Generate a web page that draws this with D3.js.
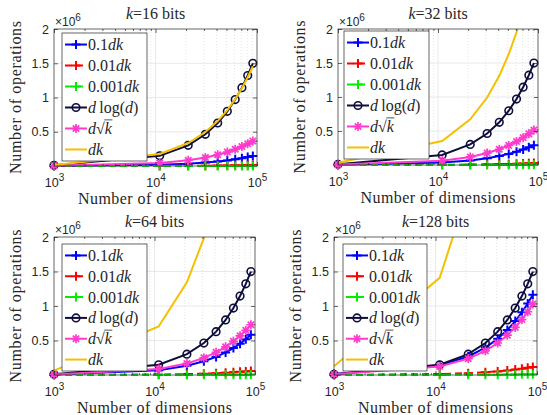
<!DOCTYPE html>
<html>
<head>
<meta charset="utf-8">
<script src="https://cdn.jsdelivr.net/npm/d3@7"></script>
<style>
body { margin: 0; background: #fff; }
.chart { width: 547px; height: 415px; }
text { fill: #262626; }
.serif { font-family: 'Liberation Serif', 'DejaVu Serif', 'Times New Roman', serif; }
.sans { font-family: 'Liberation Sans', Arial, Helvetica, sans-serif; }
</style>
</head>
<body>
<div class="chart"></div>
<script>
// dimensions d on the x axis
const dims = [1000, 11000, 21000, 31000, 41000, 51000, 61000, 71000, 81000, 91000];

const xTicks = [1e3, 1e4, 1e5];
const xTickExps = ['3', '4', '5'];
const yTicks = [0.5e6, 1e6, 1.5e6, 2e6];
const yTickLabels = ['0.5', '1', '1.5', '2'];
const kBits = [16, 32, 64, 128];

// d log(d), same in every panel
const dLogD = [10000, 148000, 302000, 463000, 628000, 798000, 970000, 1144000, 1321000, 1499000];

// k = 16
const tenth16 = [1600, 17600, 33600, 49600, 65600, 81600, 97600, 113600, 129600, 145600];
const hundredth16 = [160, 1760, 3360, 4960, 6560, 8160, 9760, 11360, 12960, 14560];
const thousandth16 = [16, 176, 336, 496, 656, 816, 976, 1136, 1296, 1456];
const sqrt16 = [4000, 44000, 84000, 124000, 164000, 204000, 244000, 284000, 324000, 364000];
const full16 = [16000, 176000, 336000, 496000, 656000, 816000, 976000, 1136000, 1296000, 1456000];

// k = 32
const tenth32 = [3200, 35200, 67200, 99200, 131200, 163200, 195200, 227200, 259200, 291200];
const hundredth32 = [320, 3520, 6720, 9920, 13120, 16320, 19520, 22720, 25920, 29120];
const thousandth32 = [32, 352, 672, 992, 1312, 1632, 1952, 2272, 2592, 2912];
const sqrt32 = [5660, 62200, 118800, 175400, 231900, 288500, 345100, 401600, 458200, 514800];
const full32 = [32000, 352000, 672000, 992000, 1312000, 1632000, 1952000, 2272000, 2592000, 2912000];

// k = 64
const tenth64 = [6400, 70400, 134400, 198400, 262400, 326400, 390400, 454400, 518400, 582400];
const hundredth64 = [640, 7040, 13440, 19840, 26240, 32640, 39040, 45440, 51840, 58240];
const thousandth64 = [64, 704, 1344, 1984, 2624, 3264, 3904, 4544, 5184, 5824];
const sqrt64 = [8000, 88000, 168000, 248000, 328000, 408000, 488000, 568000, 648000, 728000];
const full64 = [64000, 704000, 1344000, 1984000, 2624000, 3264000, 3904000, 4544000, 5184000, 5824000];

// k = 128
const tenth128 = [12800, 140800, 268800, 396800, 524800, 652800, 780800, 908800, 1036800, 1164800];
const hundredth128 = [1280, 14080, 26880, 39680, 52480, 65280, 78080, 90880, 103680, 116480];
const thousandth128 = [128, 1408, 2688, 3968, 5248, 6528, 7808, 9088, 10368, 11648];
const sqrt128 = [11300, 124500, 237600, 350700, 463900, 577000, 690100, 803300, 916400, 1029500];
const full128 = [128000, 1408000, 2688000, 3968000, 5248000, 6528000, 7808000, 9088000, 10368000, 11648000];

const panelSeries = [
	[tenth16, hundredth16, thousandth16, dLogD, sqrt16, full16],
	[tenth32, hundredth32, thousandth32, dLogD, sqrt32, full32],
	[tenth64, hundredth64, thousandth64, dLogD, sqrt64, full64],
	[tenth128, hundredth128, thousandth128, dLogD, sqrt128, full128]
];

// legend labels as [text, italic] pieces
const legendLabels = [
	[['0.1', false], ['dk', true]],
	[['0.01', false], ['dk', true]],
	[['0.001', false], ['dk', true]],
	[['d', true], ['\u2009log(', false], ['d', true], [')', false]],
	[['d', true], ['\u221A', false], ['k', true]],
	[['dk', true]]
];

const colors = ['#0000ff', '#ff0000', '#00ee00', '#0e0e3c', '#ff3acc', '#f5c000'];
const dashes = [null, '7,4', '7,4', null, null, null];
const markers = ['+', '+', '+', 'o', '*', null];

// axes boxes and legend boxes in pixels
const frames = [
	{x0: 54, x1: 257, y0: 29, y1: 166, lx0: 62, ly0: 33, lx1: 147, ly1: 161},
	{x0: 338, x1: 538, y0: 29, y1: 165, lx0: 344, ly0: 31, lx1: 429, ly1: 159},
	{x0: 54, x1: 255, y0: 237, y1: 375, lx0: 62, ly0: 244, lx1: 147, ly1: 371},
	{x0: 334, x1: 537, y0: 237, y1: 375, lx0: 343, ly0: 244, lx1: 427, ly1: 371}
];

const svg = d3.select('.chart')
	.append('svg')
	.attr('width', 547)
	.attr('height', 415);

function drawMarker(g, type, cx, cy, color) {
	if (type === '+') {
		g.append('path')
			.attr('d', `M${cx-4.5},${cy}H${cx+4.5}M${cx},${cy-4.5}V${cy+4.5}`)
			.attr('stroke', color).attr('stroke-width', 2).attr('fill', 'none');
	} else if (type === 'o') {
		g.append('circle')
			.attr('cx', cx).attr('cy', cy).attr('r', 3.8)
			.attr('stroke', color).attr('stroke-width', 1.6).attr('fill', 'none');
	} else if (type === '*') {
		const s = 4.5, t = s * 0.7071;
		g.append('path')
			.attr('d', `M${cx-s},${cy}H${cx+s}M${cx},${cy-s}V${cy+s}M${cx-t},${cy-t}L${cx+t},${cy+t}M${cx-t},${cy+t}L${cx+t},${cy-t}`)
			.attr('stroke', color).attr('stroke-width', 1.7).attr('fill', 'none');
	}
}

frames.forEach((p, pi) => {
	const series = panelSeries[pi];
	const g = svg.append('g');

	const x = d3.scaleLog().domain([1e3, 1e5]).range([p.x0, p.x1]);
	const y = d3.scaleLinear().domain([0, 2e6]).range([p.y1, p.y0]);

	svg.append('clipPath').attr('id', 'clip' + pi)
		.append('rect')
		.attr('x', p.x0 - 3).attr('y', p.y0)
		.attr('width', p.x1 - p.x0 + 3).attr('height', p.y1 - p.y0 + 3);

	// minor grid (dotted)
	const minorTicks = x.ticks().filter(v => xTicks.indexOf(v) < 0);
	g.selectAll('.minor').data(minorTicks).join('line')
		.attr('x1', d => x(d)).attr('x2', d => x(d))
		.attr('y1', p.y0).attr('y2', p.y1)
		.attr('stroke', '#d4d4d4').attr('stroke-width', 0.6)
		.attr('stroke-dasharray', '1,2');

	// major grid
	g.selectAll('.vgrid').data(xTicks.slice(1, -1)).join('line')
		.attr('x1', d => x(d)).attr('x2', d => x(d))
		.attr('y1', p.y0).attr('y2', p.y1)
		.attr('stroke', '#e3e3e3').attr('stroke-width', 0.8);
	g.selectAll('.hgrid').data(yTicks.slice(0, -1)).join('line')
		.attr('x1', p.x0).attr('x2', p.x1)
		.attr('y1', d => y(d)).attr('y2', d => y(d))
		.attr('stroke', '#e3e3e3').attr('stroke-width', 0.8);

	// series
	const line = d3.line().x((v, i) => x(dims[i])).y(v => y(v));
	series.forEach((vals, si) => {
		g.append('path')
			.datum(vals)
			.attr('d', line)
			.attr('clip-path', `url(#clip${pi})`)
			.attr('fill', 'none')
			.attr('stroke', colors[si])
			.attr('stroke-width', 2)
			.attr('stroke-dasharray', dashes[si]);
		if (markers[si]) {
			vals.forEach((v, i) => {
				if (v <= 2e6) drawMarker(g, markers[si], x(dims[i]), y(v), colors[si]);
			});
		}
	});

	// box
	g.append('rect')
		.attr('x', p.x0).attr('y', p.y0)
		.attr('width', p.x1 - p.x0).attr('height', p.y1 - p.y0)
		.attr('fill', 'none').attr('stroke', '#262626').attr('stroke-width', 0.7);

	// ticks
	const tickCol = '#262626';
	const bottom = g.append('g').attr('transform', `translate(0,${p.y1})`)
		.call(d3.axisBottom(x).tickValues(xTicks).tickSizeInner(-4).tickSizeOuter(0).tickPadding(12).tickFormat(''));
	bottom.selectAll('.tick text').each(function(d, i) {
		const t = d3.select(this).attr('class', 'sans').attr('font-family', null)
			.attr('font-size', 12.5).attr('fill', '#262626');
		t.append('tspan').text('10');
		t.append('tspan').attr('dy', -6).attr('font-size', 10).text(xTickExps[i]);
	});
	g.append('g').attr('transform', `translate(0,${p.y1})`)
		.call(d3.axisBottom(x).tickValues(minorTicks).tickSizeInner(-2).tickSizeOuter(0).tickFormat(''));
	g.append('g').attr('transform', `translate(0,${p.y0})`)
		.call(d3.axisTop(x).tickValues(xTicks).tickSizeInner(-4).tickSizeOuter(0).tickFormat(''));
	g.append('g').attr('transform', `translate(0,${p.y0})`)
		.call(d3.axisTop(x).tickValues(minorTicks).tickSizeInner(-2).tickSizeOuter(0).tickFormat(''));
	g.append('g').attr('transform', `translate(${p.x0},0)`)
		.call(d3.axisLeft(y).tickValues(yTicks).tickSizeInner(-4).tickSizeOuter(0).tickPadding(5)
			.tickFormat((d, i) => yTickLabels[i]))
		.selectAll('text').attr('class', 'sans').attr('font-family', null)
		.attr('font-size', 12.5).attr('fill', '#262626');
	g.append('g').attr('transform', `translate(${p.x1},0)`)
		.call(d3.axisRight(y).tickValues(yTicks).tickSizeInner(-4).tickSizeOuter(0).tickFormat(''));
	g.selectAll('.domain').remove();
	g.selectAll('g > g').attr('font-family', null);
	g.selectAll('.tick line').attr('stroke', tickCol).attr('stroke-width', 0.7);

	// x10^6 exponent
	const ex = g.append('text')
		.attr('class', 'sans')
		.attr('x', p.x0 + 1).attr('y', p.y0 - 3)
		.attr('font-size', 12);
	ex.append('tspan').text('\u00D710');
	ex.append('tspan').attr('dy', -5).attr('font-size', 10).text('6');

	// title
	const title = g.append('text')
		.attr('class', 'serif')
		.attr('x', (p.x0 + p.x1) / 2).attr('y', p.y0 - 10)
		.attr('text-anchor', 'middle')
		.attr('font-size', 16);
	title.append('tspan').attr('font-style', 'italic').text('k');
	title.append('tspan').text('=' + kBits[pi] + ' bits');

	// axis labels
	g.append('text')
		.attr('class', 'serif')
		.attr('x', (p.x0 + p.x1) / 2).attr('y', p.y1 + 38)
		.attr('text-anchor', 'middle')
		.attr('font-size', 16)
		.attr('textLength', 155).attr('lengthAdjust', 'spacing')
		.text('Number of dimensions');
	g.append('text')
		.attr('class', 'serif')
		.attr('transform', `translate(${p.x0 - 33},${(p.y0 + p.y1) / 2}) rotate(-90)`)
		.attr('text-anchor', 'middle')
		.attr('font-size', 16)
		.attr('textLength', 153).attr('lengthAdjust', 'spacing')
		.text('Number of operations');

	// legend
	const lg = g.append('g');
	lg.append('rect')
		.attr('x', p.lx0).attr('y', p.ly0)
		.attr('width', p.lx1 - p.lx0).attr('height', p.ly1 - p.ly0)
		.attr('fill', '#fff').attr('stroke', '#262626').attr('stroke-width', 0.7);
	const step = (p.ly1 - p.ly0) / 6.1;
	legendLabels.forEach((parts, si) => {
		const cy = p.ly0 + step * (si + 0.55);
		lg.append('line')
			.attr('x1', p.lx0 + 3).attr('x2', p.lx0 + 25)
			.attr('y1', cy).attr('y2', cy)
			.attr('stroke', colors[si]).attr('stroke-width', 2)
			.attr('stroke-dasharray', dashes[si]);
		if (markers[si]) drawMarker(lg, markers[si], p.lx0 + 14, cy, colors[si]);
		const t = lg.append('text')
			.attr('class', 'serif')
			.attr('x', p.lx0 + 26).attr('y', cy + 5.5)
			.attr('font-size', 16);
		parts.forEach(([s, it]) => {
			t.append('tspan').attr('font-style', it ? 'italic' : 'normal').text(s);
		});
		if (si === 4) {
			// overline of the square root
			const node = t.node();
			const k0 = node.getStartPositionOfChar(2);
			const k1 = node.getEndPositionOfChar(2);
			lg.append('line')
				.attr('x1', k0.x - 0.5).attr('x2', k1.x + 0.5)
				.attr('y1', cy - 8.6).attr('y2', cy - 8.6)
				.attr('stroke', '#262626').attr('stroke-width', 0.8);
		}
	});
});
</script>
</body>
</html>
